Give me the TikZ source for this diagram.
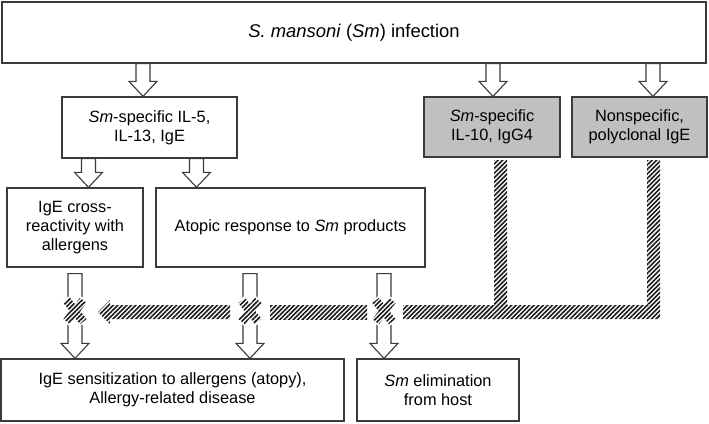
\documentclass[tikz,border=0pt]{standalone}
\usepackage{fontspec}
\setmainfont{Liberation Sans}
\usepackage{tikz}
\usetikzlibrary{calc}
\usetikzlibrary{patterns.meta}

\definecolor{linegray}{HTML}{3A3A3A}
\definecolor{boxgray}{HTML}{C0C0C0}

\tikzset{
  box/.style={draw=linegray, line width=1.3bp, align=center, inner sep=0pt,
    font=\fontsize{16.4}{18.8}\selectfont},
  shaded/.style={box, fill=boxgray},
  fat/.style={draw=linegray, line width=1.1bp, fill=white, to path={
    let \p1=(\tikztostart), \p2=(\tikztotarget) in
    (\x1-7bp,\y1) -- (\x1-7bp,\y2+15bp) -- (\x1-14bp,\y2+15bp) -- (\x1,\y2)
    -- (\x1+14bp,\y2+15bp) -- (\x1+7bp,\y2+15bp) -- (\x1+7bp,\y1) -- cycle}},
  hatch/.style={pattern={Lines[angle=45,distance=3.2bp,line width=1.6bp]},
    pattern color=black!90},
  nomark/.style={hatch, preaction={draw=white, fill=white, line width=3.5bp}},
}

\begin{document}
\begin{tikzpicture}[x=1bp, y=-1bp]
  \useasboundingbox (0,0) rectangle (709,423);

  \node[box, minimum width=704bp, minimum height=61bp,
    font=\fontsize{18.5}{22}\selectfont] (top) at (354,32.5)
    {\textit{S. mansoni} (\textit{Sm}) infection};
  \node[box, minimum width=175bp, minimum height=61bp] (il5) at (149.5,127.5)
    {\textit{Sm}-specific IL-5,\\IL-13, IgE};
  \node[shaded, minimum width=136bp, minimum height=60bp] (il10) at (492,127)
    {\textit{Sm}-specific\\IL-10, IgG4};
  \node[shaded, minimum width=135bp, minimum height=60bp] (poly) at (639.5,127)
    {Nonspecific,\\polyclonal IgE};
  \node[box, minimum width=136bp, minimum height=79bp] (cross) at (75,227.5)
    {IgE cross-\\reactivity with\\allergens};
  \node[box, minimum width=269bp, minimum height=79bp] (atopic) at (290.5,227.5)
    {Atopic response to \textit{Sm} products};
  \node[box, minimum width=343bp, minimum height=62bp] (sens) at (172.5,390)
    {IgE sensitization to allergens (atopy),\\Allergy-related disease};
  \node[box, minimum width=162bp, minimum height=62bp] (elim) at (438,390)
    {\textit{Sm} elimination\\from host};

  % block arrows
  \draw[fat] ([xshift=-211bp]top.south) to (il5.north);
  \draw[fat] ([xshift=139bp]top.south) to (il10.north);
  \draw[fat] ([xshift=299bp]top.south) to (poly.north);
  \draw[fat] ([xshift=-61bp]il5.south) to (cross.north);
  \draw[fat] ([xshift=47bp]il5.south) to (atopic.north);
  \draw[fat] ([yshift=-6bp]cross.south) to (sens.north);
  \draw[fat] ([xshift=-40.5bp,yshift=-6bp]atopic.south) to (sens.north);
  \draw[fat] ([xshift=93.5bp,yshift=-6bp]atopic.south) to (elim.north);

  % hatched inhibition
  \fill[hatch] (494,160) -- (507,160) -- (507,305) -- (647,305) -- (647,160)
    -- (660,160) -- (660,319) -- (403,319) -- (403,305) -- (494,305) -- cycle;
  \fill[hatch] (270,305) rectangle (367,319);
  \fill[hatch] (230,305) -- (110,305) -- (110,300) -- (98,312) -- (110,324)
    -- (110,319) -- (230,319) -- cycle;

  \foreach \px in {75,250,384} {
    \begin{scope}[shift={(\px,311)}]
      \path[nomark] {[rotate=52] (-13.5,-4.2) rectangle (13.5,4.2)}
        {[rotate=-52] (-13.5,-4.2) rectangle (13.5,4.2)};
    \end{scope}
  }
\end{tikzpicture}
\end{document}
